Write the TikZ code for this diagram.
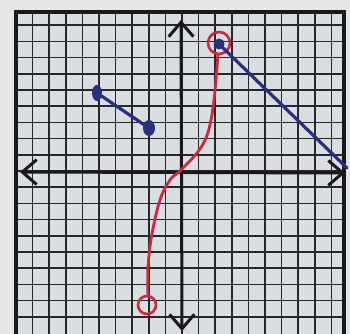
\documentclass[tikz,border=0pt]{standalone}
\usetikzlibrary{arrows.meta}
\definecolor{paper}{HTML}{E6E6E8}
\definecolor{gridpaper}{HTML}{DADDE2}
\definecolor{gridline}{HTML}{26272B}
\definecolor{navy}{HTML}{2B2F7E}
\definecolor{penred}{HTML}{C92A3E}
\begin{document}
\begin{tikzpicture}[x=0.025cm,y=-0.025cm,
  gridl/.style={draw=gridline, line width=0.04cm},
  border/.style={draw=black!90, line width=0.085cm},
  axis/.style={draw=black!90, line width=0.075cm,
    {Straight Barb[length=0.36cm,width=0.62cm]}-{Straight Barb[length=0.36cm,width=0.62cm]}},
  blueline/.style={draw=navy, line width=0.08cm, line cap=round},
  redline/.style={draw=penred, line width=0.07cm},
  redring/.style={draw=penred, line width=0.065cm},
  bluedot/.style={fill=navy}]
\fill[paper] (0,0) rectangle (350,334);
\useasboundingbox (0,0) rectangle (350,334);
\fill[gridpaper] (16,12) rectangle (344,334);
\foreach \k in {-9,...,9} \draw[gridl] ({182+16.6*\k},12) -- ({182+16.6*\k},334);
\foreach \k in {-9,...,9} \draw[gridl] (16,{171-16.2*\k}) -- (344,{171-16.2*\k});
\draw[border] (16,334) -- (16,12) -- (344,12) -- (344,334);
% axes
\coordinate (xl) at (20,172);
\coordinate (xr) at (345,173);
\coordinate (yt) at (181,20);
\coordinate (yb) at (182,331);
\draw[axis] (xl) -- (xr);
\draw[axis] (yb) -- (yt);
% red curve
\coordinate (rb) at (147,305);
\coordinate (rt) at (219,43);
\draw[redline] plot[smooth, tension=0.6] coordinates {(148,296) (148,267) (152,234) (160,200) (170,180) (180,171) (197,153) (206,138) (211,120) (214,100) (216,80) (218,54)};
\draw[redring] (rb) circle (9);
\draw[redring] (rt) circle (11);
% blue pieces
\coordinate (b1) at (97,93);
\coordinate (b2) at (149,128);
\coordinate (b3) at (219,44);
\coordinate (b4) at (347,168);
\draw[blueline] (b1) -- (b2);
\fill[bluedot] (b1) ellipse (5 and 8);
\fill[bluedot] (b2) ellipse (6 and 8);
\draw[blueline] (b3) -- (b4);
\fill[bluedot] (b3) circle (5.5);
\end{tikzpicture}
\end{document}
